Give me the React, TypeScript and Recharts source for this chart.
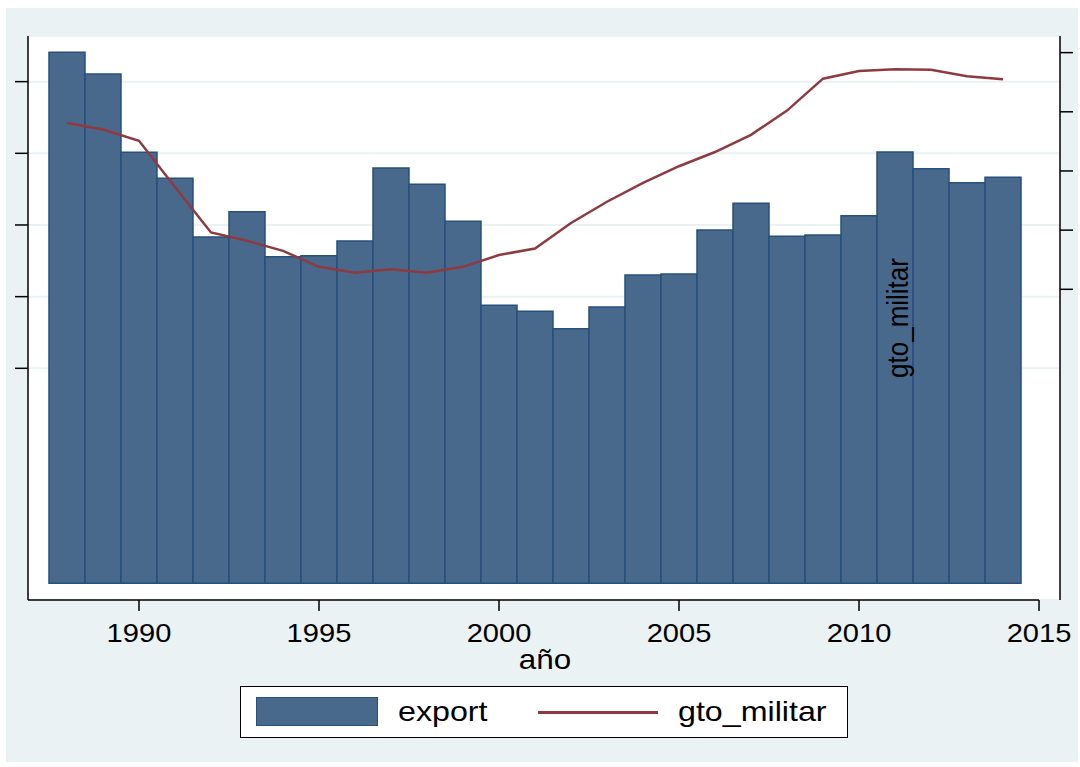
import { Bar, CartesianGrid, ComposedChart, Line, ReferenceLine, XAxis, YAxis } from "recharts";

const years = [
  1988, 1989, 1990, 1991, 1992, 1993, 1994, 1995, 1996, 1997, 1998, 1999, 2000, 2001,
  2002, 2003, 2004, 2005, 2006, 2007, 2008, 2009, 2010, 2011, 2012, 2013, 2014,
];
const exportVals = [
  37.05, 35.53, 30.07, 28.26, 24.16, 25.93, 22.79, 22.86, 23.88, 28.98, 27.84, 25.26, 19.4, 18.98,
  17.76, 19.28, 21.51, 21.58, 24.65, 26.51, 24.21, 24.3, 25.65, 30.09, 28.93, 27.95, 28.33,
];
const gtoMilitar = [
  3.81, 3.7, 3.51, 2.73, 1.96, 1.82, 1.65, 1.38, 1.28, 1.34, 1.28, 1.38, 1.58, 1.69,
  2.12, 2.48, 2.8, 3.08, 3.32, 3.61, 4.02, 4.56, 4.69, 4.72, 4.71, 4.6, 4.55,
];
const xTicks = [1990, 1995, 2000, 2005, 2010, 2015];
const leftTicks = [15, 20, 25, 30, 35];
const rightTicks = [1, 2, 3, 4, 5];

const data = years.map((y, i) => ({ year: y, export: exportVals[i], gto_militar: gtoMilitar[i] }));

const BAR = "#48698b";
const BAR_EDGE = "#27507a";
const LINE = "#8f3a40";
const BG = "#eaf2f3";
const FONT = "'Liberation Sans', Arial, sans-serif";

function XTick(props: any) {
  const { x, y, payload } = props;
  return (
    <text
      transform={`translate(${x},${y + 31}) scale(1.12,1)`}
      textAnchor="middle"
      fontSize={26}
      fontFamily={FONT}
      fill="#000"
    >
      {payload.value}
    </text>
  );
}

const NoLabel = () => <g />;

export default function App() {
  return (
    <div style={{ position: "absolute", left: 0, top: 0, width: 1080, height: 767, background: "#fff" }}>
      <div style={{ position: "absolute", left: 6, top: 8, width: 1072, height: 754, background: BG }} />
      <div style={{ position: "absolute", left: 0, top: 0 }}>
        <ComposedChart width={1080} height={767} data={data} margin={{ top: 36, right: 0, bottom: 127, left: 0 }}>
          <CartesianGrid
            yAxisId="left"
            vertical={false}
            horizontal
            fill="#ffffff"
            fillOpacity={1}
            stroke={BG}
            strokeWidth={2}
          />
          <XAxis
            dataKey="year"
            type="number"
            domain={[1986.917, 2015.583]}
            allowDataOverflow
            ticks={xTicks}
            height={40}
            axisLine={false}
            tickLine={{ stroke: "#000", strokeWidth: 1.5 }}
            tickSize={11}
            tickMargin={0}
            tick={<XTick />}
          />
          <YAxis
            yAxisId="left"
            orientation="left"
            width={28}
            domain={[-1.165, 38.185]}
            allowDataOverflow
            ticks={leftTicks}
            axisLine={{ stroke: "#000", strokeWidth: 1.5 }}
            tickLine={{ stroke: "#000", strokeWidth: 1.5 }}
            tickSize={13}
            tick={<NoLabel />}
          />
          <YAxis
            yAxisId="right"
            orientation="right"
            width={20}
            domain={[-4.251, 5.281]}
            allowDataOverflow
            ticks={rightTicks}
            axisLine={{ stroke: "#000", strokeWidth: 1.5 }}
            tickLine={{ stroke: "#000", strokeWidth: 1.5 }}
            tickSize={13}
            tick={<NoLabel />}
          />
          <Bar
            yAxisId="left"
            dataKey="export"
            barSize={36}
            fill={BAR}
            stroke={BAR_EDGE}
            strokeWidth={1.5}
            isAnimationActive={false}
          />
          <Line
            yAxisId="right"
            dataKey="gto_militar"
            type="linear"
            stroke={LINE}
            strokeWidth={2.5}
            dot={false}
            activeDot={false}
            isAnimationActive={false}
          />
          <ReferenceLine
            yAxisId="left"
            segment={[
              { x: 1986.917, y: -1.165 },
              { x: 2015, y: -1.165 },
            ]}
            stroke="#000"
            strokeWidth={1.5}
            ifOverflow="visible"
          />
        </ComposedChart>
      </div>

      {/* axis title */}
      <div
        style={{
          position: "absolute",
          left: 545,
          top: 660,
          transform: "translate(-50%,-50%) scaleX(1.12)",
          fontFamily: FONT,
          fontSize: 28,
          lineHeight: 1,
          whiteSpace: "nowrap",
        }}
      >
        año
      </div>

      {/* stray right-axis title as in the original */}
      <div
        style={{
          position: "absolute",
          left: 898,
          top: 318,
          transform: "translate(-50%,-50%) rotate(-90deg) scaleY(1.12)",
          fontFamily: FONT,
          fontSize: 26,
          lineHeight: 1,
          whiteSpace: "nowrap",
        }}
      >
        gto_militar
      </div>

      {/* legend */}
      <div
        style={{
          position: "absolute",
          left: 240,
          top: 686,
          width: 606,
          height: 50,
          background: "#fff",
          border: "1px solid #000",
          fontFamily: FONT,
          fontSize: 28,
        }}
      >
        <div style={{ position: "absolute", left: 15, top: 10, width: 122, height: 29, background: BAR, border: `1px solid ${BAR_EDGE}`, boxSizing: "border-box" }} />
        <div style={{ position: "absolute", left: 157, top: 25, transform: "translateY(-50%) scaleX(1.15)", transformOrigin: "left center", lineHeight: 1 }}>
          export
        </div>
        <div style={{ position: "absolute", left: 297, top: 24, width: 120, height: 3, background: LINE }} />
        <div style={{ position: "absolute", left: 437, top: 25, transform: "translateY(-50%) scaleX(1.15)", transformOrigin: "left center", lineHeight: 1 }}>
          gto_militar
        </div>
      </div>
    </div>
  );
}
